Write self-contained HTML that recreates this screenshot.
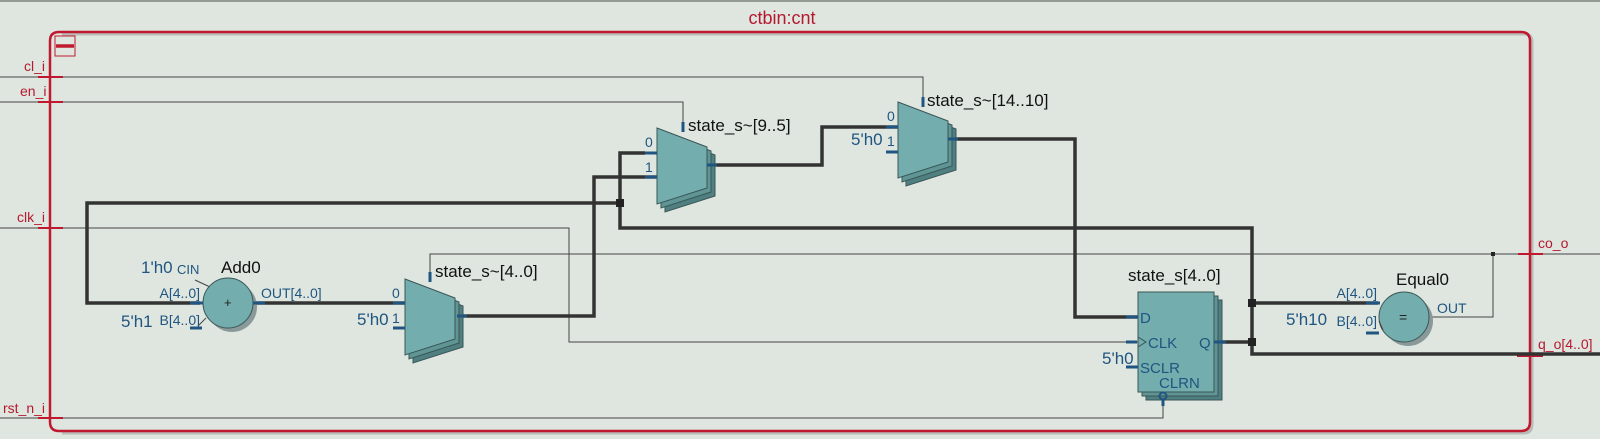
<!DOCTYPE html>
<html><head><meta charset="utf-8"><style>
html,body{margin:0;padding:0;background:#dfe6df;}
svg{display:block;}
text{font-family:"Liberation Sans","DejaVu Sans",sans-serif;}
.r{fill:#b5192f;font-size:14px;}
.b{fill:#1f5580;font-size:14px;}
.bb{fill:#1f5580;font-size:17px;}
.k{fill:#111;font-size:17px;}
</style></head><body>
<svg width="1600" height="439" viewBox="0 0 1600 439" xmlns="http://www.w3.org/2000/svg">
<rect width="1600" height="439" fill="#dfe6df"/>
<line x1="0" y1="1" x2="1600" y2="1" stroke="#7a807a" stroke-width="1.5"/>
<path d="M62 34 H1524 Q1532 34 1532 42 V424 Q1532 433 1524 433 H62" fill="none" stroke="#b8bcb8" stroke-width="3"/>
<path d="M58 32 H1521 Q1530 32 1530 41 V422 Q1530 431 1521 431 H59 Q50 431 50 422 V41 Q50 32 59 32 Z" fill="none" stroke="#c0192f" stroke-width="2.5"/>
<text x="782" y="24" text-anchor="middle" style="fill:#b5192f;font-size:18px;font-family:'Liberation Sans',sans-serif">ctbin:cnt</text>
<rect x="55" y="36" width="20" height="20" fill="none" stroke="#c0192f" stroke-width="1"/>
<line x1="56" y1="46" x2="74" y2="46" stroke="#c0192f" stroke-width="3.5"/>

<g fill="none" stroke="#444" stroke-width="1">
<path d="M0 77 H923 V103"/>
<path d="M0 102 H683 V128"/>
<path d="M0 228 H569 V342 H1138"/>
<path d="M0 418 H1163 V400"/>
<path d="M430 279 V254 H1600"/>
<path d="M1429 317 H1493 V254"/>
</g>
<rect x="1491" y="252" width="4" height="4" fill="#222"/>
<g stroke="#c0192f" stroke-width="2">
<line x1="38" y1="77" x2="63" y2="77"/><line x1="38" y1="102" x2="63" y2="102"/>
<line x1="38" y1="228" x2="63" y2="228"/><line x1="38" y1="418" x2="63" y2="418"/>
<line x1="1518" y1="254" x2="1543" y2="254"/>
</g>
<line x1="1517" y1="355" x2="1543" y2="355" stroke="#c0192f" stroke-width="4"/>
<text class="r" x="24" y="71">cl_i</text>
<text class="r" x="20" y="96">en_i</text>
<text class="r" x="17" y="222">clk_i</text>
<text class="r" x="3" y="413">rst_n_i</text>
<text class="r" x="1538" y="248">co_o</text>
<text class="r" x="1538" y="349">q_o[4..0]</text>

<g fill="none" stroke="#333" stroke-width="3.5">
<path d="M200 303 H87 V203 H620"/>
<path d="M645 153 H620 V228 H1252 V354 H1600"/>
<path d="M253 303 H405"/>
<path d="M457 316 H594 V177 H657"/>
<path d="M707 165 H822 V127 H898"/>
<path d="M948 139 H1075 V317 H1138"/>
<path d="M1214 342 H1252"/>
<path d="M1252 303 H1378"/>
</g>
<g fill="#222">
<rect x="616" y="199" width="8" height="8"/>
<rect x="1248" y="299" width="8" height="8"/>
<rect x="1248" y="338" width="8" height="8"/>
</g>

<defs>
<g id="mux">
<path d="M8 8 L58 27 L58 68 L8 84 Z" fill="#4f7f80" stroke="#3a5656"/>
<path d="M4 4 L54 23 L54 64 L4 80 Z" fill="#5f9595" stroke="#3a5656"/>
<path d="M0 0 L50 19 L50 60 L0 76 Z" fill="#74adad" stroke="#3a5656"/>
</g>
</defs>
<use href="#mux" x="405" y="279"/>
<use href="#mux" x="657" y="128"/>
<use href="#mux" x="898" y="102"/>
<g stroke="#1f5580" stroke-width="3">
<line x1="393" y1="303" x2="405" y2="303"/><line x1="393" y1="328" x2="405" y2="328"/>
<line x1="457" y1="316" x2="467" y2="316"/><line x1="430" y1="272" x2="430" y2="282"/>
<line x1="645" y1="153" x2="657" y2="153"/><line x1="645" y1="177" x2="657" y2="177"/>
<line x1="707" y1="165" x2="717" y2="165"/><line x1="683" y1="122" x2="683" y2="132"/>
<line x1="886" y1="127" x2="898" y2="127"/><line x1="886" y1="152" x2="898" y2="152"/>
<line x1="948" y1="139" x2="958" y2="139"/><line x1="923" y1="97" x2="923" y2="107"/>
</g>
<text class="b" x="392" y="298">0</text><text class="b" x="392" y="323">1</text>
<text class="bb" x="357" y="325">5'h0</text>
<text class="k" x="435" y="277">state_s~[4..0]</text>
<text class="b" x="645" y="147">0</text><text class="b" x="645" y="172">1</text>
<text class="k" x="688" y="131">state_s~[9..5]</text>
<text class="b" x="887" y="121">0</text><text class="b" x="887" y="146">1</text>
<text class="bb" x="851" y="145">5'h0</text>
<text class="k" x="927" y="106">state_s~[14..10]</text>

<line x1="195" y1="280" x2="210" y2="287" stroke="#444"/>
<line x1="206" y1="318" x2="198" y2="326" stroke="#444"/>
<circle cx="232" cy="307" r="25" fill="#8a9a9a"/>
<circle cx="228" cy="303" r="25" fill="#74adad" stroke="#3a5656"/>
<text x="224" y="307" style="font-size:13px;fill:#222">+</text>
<g stroke="#1f5580" stroke-width="3"><line x1="190" y1="303" x2="203" y2="303"/><line x1="190" y1="328" x2="202" y2="328"/><line x1="253" y1="303" x2="265" y2="303"/></g>
<text class="k" x="221" y="273">Add0</text>
<text class="bb" x="141" y="273">1'h0</text>
<text class="b" x="177" y="274" style="font-size:13px">CIN</text>
<text class="b" x="200" y="298" text-anchor="end">A[4..0]</text>
<text class="b" x="200" y="325" text-anchor="end">B[4..0]</text>
<text class="bb" x="121" y="327">5'h1</text>
<text class="b" x="261" y="298">OUT[4..0]</text>

<rect x="1146" y="300" width="76" height="100" fill="#4f7f80" stroke="#3a5656"/>
<rect x="1142" y="296" width="76" height="100" fill="#5f9595" stroke="#3a5656"/>
<rect x="1138" y="292" width="76" height="100" fill="#74adad" stroke="#3a5656"/>
<g stroke="#1f5580" stroke-width="3">
<line x1="1126" y1="317" x2="1138" y2="317"/><line x1="1126" y1="342" x2="1137" y2="342"/>
<line x1="1126" y1="367" x2="1138" y2="367"/><line x1="1214" y1="342" x2="1226" y2="342"/>
<line x1="1163" y1="400" x2="1163" y2="406"/>
</g>
<path d="M1138 337 L1146 342 L1138 347" fill="none" stroke="#3a5656"/>
<circle cx="1163" cy="396" r="3.5" fill="none" stroke="#1f5580" stroke-width="2"/>
<text class="bb" x="1140" y="323" style="font-size:15px">D</text>
<text class="bb" x="1148" y="348" style="font-size:15px">CLK</text>
<text class="bb" x="1140" y="373" style="font-size:15px">SCLR</text>
<text class="bb" x="1159" y="388" style="font-size:15px">CLRN</text>
<text class="bb" x="1199" y="348" style="font-size:15px">Q</text>
<text class="bb" x="1102" y="364">5'h0</text>
<text class="k" x="1128" y="281">state_s[4..0]</text>

<circle cx="1408" cy="321" r="25" fill="#8a9a9a"/>
<circle cx="1404" cy="317" r="25" fill="#74adad" stroke="#3a5656"/>
<text x="1399" y="322" style="font-size:14px;fill:#222">=</text>
<g stroke="#1f5580" stroke-width="3"><line x1="1366" y1="303" x2="1380" y2="303"/><line x1="1366" y1="333" x2="1379" y2="333"/></g>
<line x1="1379" y1="321" x2="1383" y2="330" stroke="#444"/>
<text class="b" x="1377" y="298" text-anchor="end">A[4..0]</text>
<text class="b" x="1377" y="326" text-anchor="end">B[4..0]</text>
<text class="bb" x="1286" y="325">5'h10</text>
<text class="b" x="1437" y="313">OUT</text>
<text class="k" x="1396" y="285">Equal0</text>
</svg>
</body></html>
